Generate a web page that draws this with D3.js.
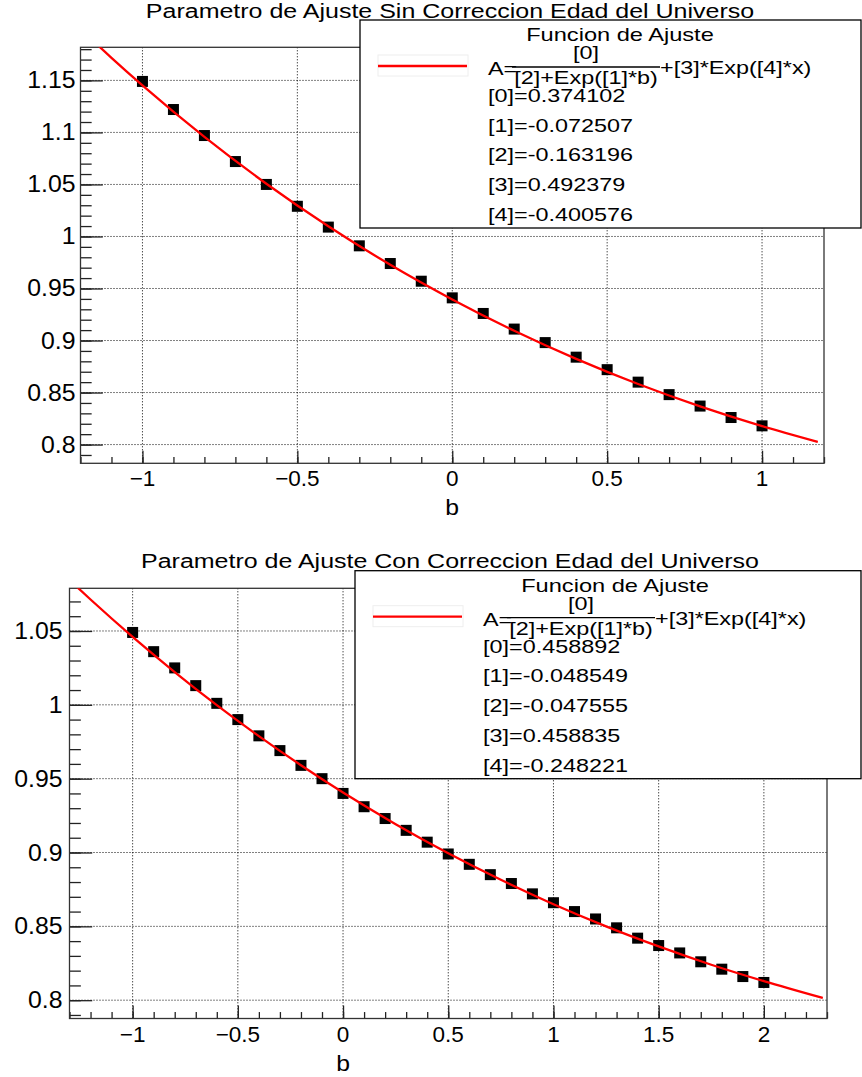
<!DOCTYPE html>
<html>
<head>
<meta charset="utf-8">
<script src="https://cdnjs.cloudflare.com/ajax/libs/d3/7.8.5/d3.min.js"></script>
<style>
body { margin: 0; background: #fff; }
text { font-family: "Liberation Sans", Arial, sans-serif; fill: #000; }
</style>
</head>
<body>
<div id="chart"></div>
<script>
// datos sin correccion
var bTop = [-1.0, -0.9, -0.8, -0.7, -0.6, -0.5, -0.4, -0.3, -0.2, -0.1, 0.0, 0.1, 0.2, 0.3, 0.4, 0.5, 0.6, 0.7, 0.8, 0.9, 1.0];
var aTop = [1.149, 1.122, 1.097, 1.072, 1.050, 1.029, 1.009, 0.991, 0.974, 0.957, 0.941, 0.926, 0.911, 0.898, 0.884, 0.872, 0.860, 0.848, 0.837, 0.826, 0.818];
var fitBTop = [-1.2, -1.1, -1.0, -0.8, -0.6, -0.4, -0.2, 0.0, 0.2, 0.4, 0.6, 0.8, 1.0, 1.18];
var fitATop = [1.1995, 1.1717, 1.1452, 1.0957, 1.0507, 1.0098, 0.9728, 0.9395, 0.9094, 0.8824, 0.8582, 0.8367, 0.8177, 0.8025];

// datos con correccion
var bBot = [-1.0, -0.9, -0.8, -0.7, -0.6, -0.5, -0.4, -0.3, -0.2, -0.1, 0.0, 0.1, 0.2, 0.3, 0.4, 0.5, 0.6, 0.7, 0.8, 0.9, 1.0, 1.1, 1.2, 1.3, 1.4, 1.5, 1.6, 1.7, 1.8, 1.9, 2.0];
var aBot = [1.049, 1.036, 1.025, 1.013, 1.001, 0.990, 0.979, 0.969, 0.959, 0.950, 0.940, 0.931, 0.923, 0.915, 0.907, 0.899, 0.892, 0.885, 0.879, 0.872, 0.866, 0.860, 0.855, 0.849, 0.842, 0.837, 0.832, 0.826, 0.821, 0.816, 0.812];
var fitBBot = [-1.3, -1.2, -1.0, -0.8, -0.6, -0.4, -0.2, 0.0, 0.25, 0.5, 0.75, 1.0, 1.25, 1.5, 1.75, 2.0, 2.28];
var fitABot = [1.0845, 1.0713, 1.0460, 1.0222, 0.9998, 0.9788, 0.9591, 0.9406, 0.9192, 0.8995, 0.8815, 0.8650, 0.8500, 0.8364, 0.8240, 0.8129, 0.8015];

var xTicksTop = [-1, -0.5, 0, 0.5, 1];
var yTicksTop = [0.8, 0.85, 0.9, 0.95, 1, 1.05, 1.1, 1.15];
var xTicksBot = [-1, -0.5, 0, 0.5, 1, 1.5, 2];
var yTicksBot = [0.8, 0.85, 0.9, 0.95, 1, 1.05];

var paramsTop = ["0.374102", "-0.072507", "-0.163196", "0.492379", "-0.400576"];
var paramsBot = ["0.458892", "-0.048549", "-0.047555", "0.458835", "-0.248221"];

var titleTop = "Parametro de Ajuste Sin Correccion Edad del Universo";
var titleBot = "Parametro de Ajuste Con Correccion Edad del Universo";
var legendTitle = "Funcion de Ajuste";

var width = 862, height = 1077;

var svg = d3.select("#chart").append("svg")
    .attr("width", width).attr("height", height)
    .style("background", "#fff");

// texto con estiramiento horizontal (como el lienzo original)
function stext(g, x, y, str, size, sx, anchor) {
    return g.append("text")
        .attr("transform", "translate(" + x + "," + y + ") scale(" + sx + ",1)")
        .attr("text-anchor", anchor || "start")
        .attr("font-size", size + "px")
        .text(str);
}

function fmt(d) {
    return String(d).replace("-", "\u2212");
}

function drawPanel(p) {
    var g = svg.append("g");
    var x = d3.scaleLinear().domain(p.xDom).range([p.left, p.right]);
    var y = d3.scaleLinear().domain(p.yDom).range([p.bottom, p.top]);
    var fw = p.right - p.left, fh = p.bottom - p.top;

    // grid punteado
    g.selectAll(".gx").data(p.xTicks).enter().append("line")
        .attr("x1", function(d){ return x(d); }).attr("x2", function(d){ return x(d); })
        .attr("y1", p.top).attr("y2", p.bottom)
        .attr("stroke", "#000").attr("stroke-width", 1).attr("stroke-dasharray", "1,2");
    g.selectAll(".gy").data(p.yTicks).enter().append("line")
        .attr("x1", p.left).attr("x2", p.right)
        .attr("y1", function(d){ return y(d); }).attr("y2", function(d){ return y(d); })
        .attr("stroke", "#000").attr("stroke-width", 1).attr("stroke-dasharray", "1,2");

    // ticks menores y mayores hacia adentro
    var minorX = d3.range(Math.ceil(p.xDom[0] * 10), Math.floor(p.xDom[1] * 10) + 1).map(function(i){ return i / 10; });
    var minorY = d3.range(Math.ceil(p.yDom[0] * 100), Math.floor(p.yDom[1] * 100) + 1).map(function(i){ return i / 100; });

    var axes = [
        g.append("g").attr("transform", "translate(0," + p.bottom + ")")
            .call(d3.axisBottom(x).tickValues(minorX).tickSize(-fh * 0.015).tickFormat("")),
        g.append("g").attr("transform", "translate(0," + p.bottom + ")")
            .call(d3.axisBottom(x).tickValues(p.xTicks).tickSize(-fh * 0.03).tickFormat("")),
        g.append("g").attr("transform", "translate(" + p.left + ",0)")
            .call(d3.axisLeft(y).tickValues(minorY).tickSize(-fw * 0.015).tickFormat("")),
        g.append("g").attr("transform", "translate(" + p.left + ",0)")
            .call(d3.axisLeft(y).tickValues(p.yTicks).tickSize(-fw * 0.03).tickFormat(""))
    ];
    axes.forEach(function(a){
        a.select(".domain").remove();
        a.selectAll("line").attr("stroke", "#222").attr("stroke-width", 1.3);
    });

    // etiquetas
    p.xTicks.forEach(function(d){
        stext(g, x(d), p.bottom + 23, fmt(d), 22.5, 1, "middle");
    });
    p.yTicks.forEach(function(d){
        stext(g, p.left - p.ylabPad, y(d) + 8, fmt(d), 23, 1.08, "end");
    });
    stext(g, x(0), p.bottom + 52, "b", 22.5, 1.1, "middle");

    // marco
    g.append("rect")
        .attr("x", p.left).attr("y", p.top).attr("width", fw).attr("height", fh)
        .attr("fill", "none").attr("stroke", "#333").attr("stroke-width", 1.3);

    var clipId = "clip" + p.id;
    svg.append("clipPath").attr("id", clipId).append("rect")
        .attr("x", p.left).attr("y", p.top).attr("width", fw).attr("height", fh);

    // puntos
    g.selectAll(".pt").data(p.b).enter().append("rect")
        .attr("x", function(d){ return x(d) - 5.5; })
        .attr("y", function(d, i){ return y(p.a[i]) - 5.5; })
        .attr("width", 11).attr("height", 11)
        .attr("fill", "#000");

    // curva de ajuste
    var line = d3.line()
        .x(function(d){ return x(d[0]); })
        .y(function(d){ return y(d[1]); })
        .curve(d3.curveMonotoneX);
    g.append("path")
        .datum(p.fitB.map(function(d, i){ return [d, p.fitA[i]]; }))
        .attr("clip-path", "url(#" + clipId + ")")
        .attr("d", line)
        .attr("fill", "none").attr("stroke", "#ff0000").attr("stroke-width", 2.3);

    // titulo
    stext(g, 450, p.titleY, p.title, 20, 1.25, "middle");

    // leyenda
    var lx = p.legX, ly = p.legY;
    var leg = g.append("g");
    leg.append("rect")
        .attr("x", lx).attr("y", ly).attr("width", width - 1 - lx).attr("height", 208)
        .attr("fill", "#fff").attr("stroke", "#000").attr("stroke-width", 1.3);
    stext(leg, lx + 260, ly + 21, legendTitle, 17.5, 1.35, "middle");
    leg.append("rect")
        .attr("x", lx + 18).attr("y", ly + 35).attr("width", 90).attr("height", 21)
        .attr("fill", "none").attr("stroke", "#eee").attr("stroke-width", 1);
    leg.append("line")
        .attr("x1", lx + 18).attr("x2", lx + 107)
        .attr("y1", ly + 46).attr("y2", ly + 46)
        .attr("stroke", "#ff0000").attr("stroke-width", 2.3);
    stext(leg, lx + 128, ly + 55, "A=", 18, 1.3, "start");
    leg.append("line")
        .attr("x1", lx + 152).attr("x2", lx + 300)
        .attr("y1", ly + 47).attr("y2", ly + 47)
        .attr("stroke", "#000").attr("stroke-width", 1.3);
    stext(leg, lx + 226, ly + 39, "[0]", 18, 1.3, "middle");
    stext(leg, lx + 226, ly + 64, "[2]+Exp([1]*b)", 18, 1.3, "middle");
    stext(leg, lx + 300, ly + 54, "+[3]*Exp([4]*x)", 18, 1.3, "start");
    p.params.forEach(function(v, i){
        stext(leg, lx + 128, ly + 82 + i * 29.7, "[" + i + "]=" + v, 18, 1.3, "start");
    });
}

drawPanel({
    id: "top", left: 80.5, right: 824, top: 47.3, bottom: 463.3,
    xDom: [-1.2, 1.2], yDom: [0.782, 1.1818],
    xTicks: xTicksTop, yTicks: yTicksTop, ylabPad: 5,
    b: bTop, a: aTop, fitB: fitBTop, fitA: fitATop,
    title: titleTop, titleY: 18, legX: 360, legY: 20, params: paramsTop
});

drawPanel({
    id: "bot", left: 69.5, right: 827, top: 588.3, bottom: 1018.5,
    xDom: [-1.3, 2.3], yDom: [0.7876, 1.0789],
    xTicks: xTicksBot, yTicks: yTicksBot, ylabPad: 7,
    b: bBot, a: aBot, fitB: fitBBot, fitA: fitABot,
    title: titleBot, titleY: 568, legX: 355, legY: 570.7, params: paramsBot
});
</script>
</body>
</html>
